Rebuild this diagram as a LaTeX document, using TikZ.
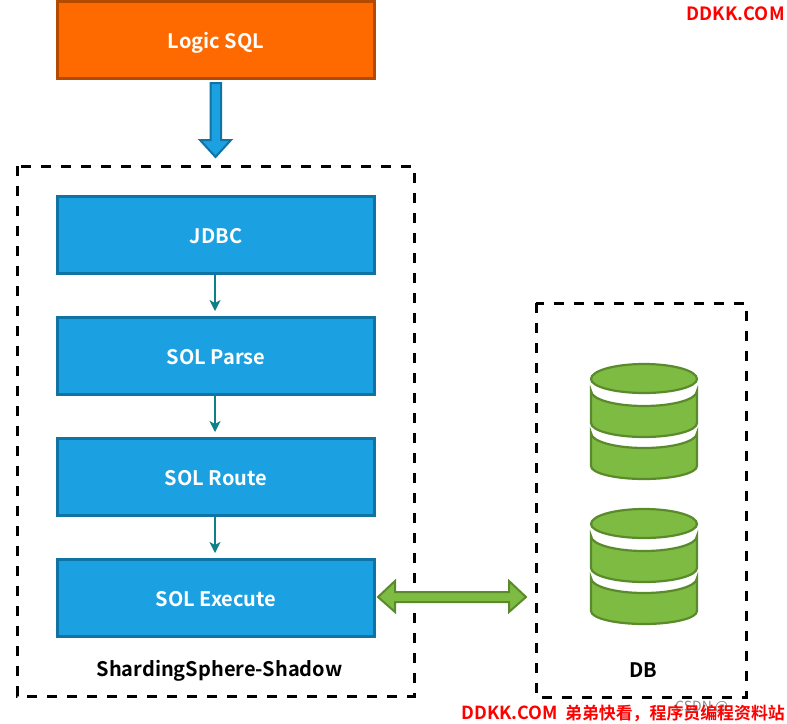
\documentclass[tikz,border=0pt]{standalone}
\usepackage{fontspec}
\setmainfont{Noto Sans CJK SC}[BoldFont={Noto Sans CJK SC Bold}]
\newfontfamily\wmfont{Noto Sans CJK SC Bold}
\usetikzlibrary{arrows.meta}
\definecolor{bluefill}{HTML}{1BA1E2}
\definecolor{blueline}{HTML}{0F73A3}
\definecolor{orangefill}{HTML}{FF6A00}
\definecolor{orangeline}{HTML}{B34A00}
\definecolor{greenfill}{HTML}{7EBB42}
\definecolor{greenline}{HTML}{5A8A2C}
\definecolor{tealline}{HTML}{0E8088}
\newcommand{\boxlabel}[1]{\raisebox{-8.5pt}[0pt][0pt]{#1}}
\tikzset{
 x=1pt,y=-1pt,
 procbox/.style={draw=blueline,fill=bluefill,line width=3pt,minimum width=317pt,minimum height=77pt,inner sep=0pt,text=white,font=\fontsize{20}{24}\selectfont\bfseries},
 logicbox/.style={procbox,draw=orangeline,fill=orangefill},
 dashbox/.style={draw=black,line width=3pt,dash pattern=on 10pt off 10pt},
 flow/.style={draw=tealline,line width=1.3pt,-{Stealth[length=11pt,width=11pt,inset=3pt]}},
 captext/.style={text=black,font=\fontsize{20}{24}\selectfont\bfseries,inner sep=0pt},
 wmtext/.style={text=red,font=\wmfont,inner sep=0pt},
 greenpart/.style={draw=greenline,fill=greenfill,line width=2.2pt},
 cyl/.pic={
  \draw[greenpart] (-53,0) .. controls (-53,-8.3) and (-29.3,-15) .. (0,-15) .. controls (29.3,-15) and (53,-8.3) .. (53,0) .. controls (53,7.7) and (29.3,14) .. (0,14) .. controls (-29.3,14) and (-53,7.7) .. (-53,0) -- cycle;
  \draw[greenpart] (-53,12) .. controls (-53,20.3) and (-29.3,27) .. (0,27) .. controls (29.3,27) and (53,20.3) .. (53,12) -- (53,44) .. controls (53,51.7) and (29.3,58) .. (0,58) .. controls (-29.3,58) and (-53,51.7) .. (-53,44) -- cycle;
  \draw[greenpart] (-53,54) .. controls (-53,62.3) and (-29.3,69) .. (0,69) .. controls (29.3,69) and (53,62.3) .. (53,54) -- (53,87) .. controls (53,94.2) and (29.3,100) .. (0,100) .. controls (-29.3,100) and (-53,94.2) .. (-53,87) -- cycle;
 }
}
\begin{document}
\begin{tikzpicture}
\useasboundingbox (0,0) rectangle (787,723);
\fill[white] (0,0) rectangle (787,723);
% dashed frames
\draw[dashbox] (17,166) rectangle (414,696);
\draw[dashbox] (536,303) rectangle (746,697);
% boxes
\node[logicbox] (logic) at (216,40) {\boxlabel{Logic SQL}};
\node[procbox] (jdbc) at (216,235) {\boxlabel{JDBC}};
\node[procbox] (parse) at (216,356) {\boxlabel{SOL Parse}};
\node[procbox] (route) at (216,477) {\boxlabel{SOL Route}};
\node[procbox] (exec) at (216,598) {\boxlabel{SOL Execute}};
% connectors
\draw[flow] ([xshift=-1pt]jdbc.south) -- ([xshift=-1pt,yshift=5pt]parse.north);
\draw[flow] ([xshift=-1pt]parse.south) -- ([xshift=-1pt,yshift=5pt]route.north);
\draw[flow] ([xshift=-1pt]route.south) -- ([xshift=-1pt,yshift=5pt]exec.north);
% block arrows
\draw[draw=blueline,fill=bluefill,line width=2pt,line join=miter] (210.5,83) -- (221,83) -- (221,140) -- (231,140) -- (215.5,157) -- (200,140) -- (210.5,140) -- cycle;
\draw[draw=greenline,fill=greenfill,line width=2pt,line join=miter] (378,597) -- (395,581) -- (395,592) -- (509,592) -- (509,581) -- (526,597) -- (509,612) -- (509,602) -- (395,602) -- (395,612) -- cycle;
% cylinders
\pic at (644,379) {cyl};
\pic at (644,524) {cyl};
% captions
\node[captext] (shadowcap) at (219.5,670.5) {ShardingSphere-Shadow};
\node[captext] (dbcap) at (643.5,670) {DB};
% watermarks
\node[text=black!45,anchor=west,inner sep=0pt,font=\fontsize{14}{16}\selectfont] (csdn) at (675,707) {CSDN @};
\node[wmtext,font=\fontsize{18.3}{20}\selectfont\wmfont] (wma) at (735.5,14) {DDKK.COM};
\node[wmtext,anchor=east] (wmb) at (785,713) {\fontsize{18}{20}\selectfont DDKK.COM\hspace{7pt}\fontsize{16.9}{20}\selectfont 弟弟快看，程序员编程资料站};
\end{tikzpicture}
\end{document}
